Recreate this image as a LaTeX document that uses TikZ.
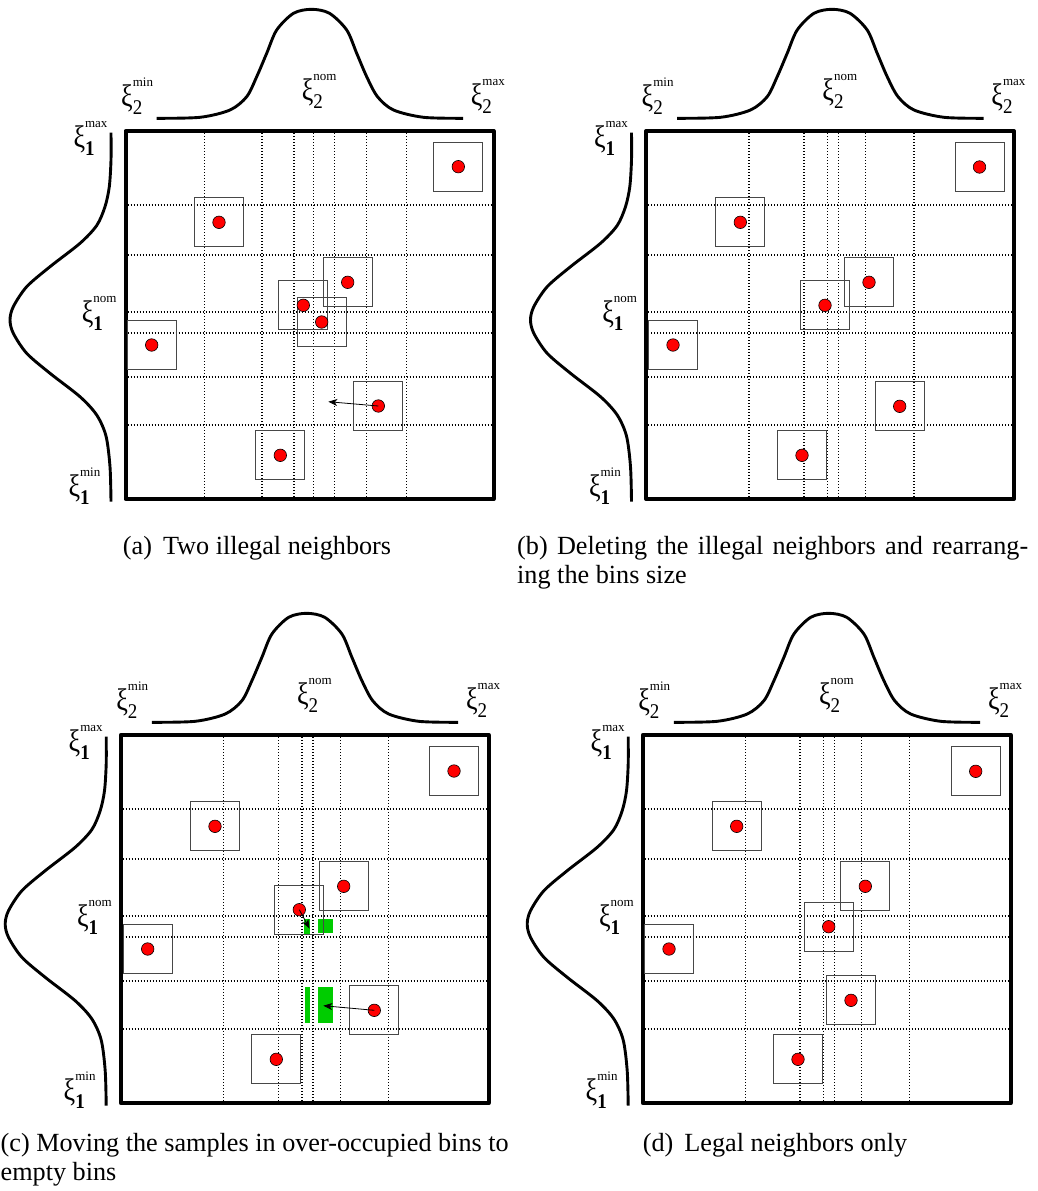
\documentclass[tikz,border=0pt]{standalone}
\usepackage{fontspec}
\setmainfont{Liberation Serif}
\usetikzlibrary{arrows.meta}
\definecolor{dotred}{RGB}{255,0,0}
\definecolor{bingreen}{RGB}{0,204,0}
\tikzset{
  outerframe/.style={line width=4pt, line join=round},
  bell/.style={line width=2.9pt},
  vgrid/.style={line width=1.4pt, dash pattern=on 1.4pt off 1.6pt},
  hgrid/.style={line width=1.8pt, dash pattern=on 1.4pt off 1.6pt},
  samp/.style={circle, draw=black, line width=0.6pt, fill=dotred, minimum size=12.5pt, inner sep=0pt},
  nbox/.style={draw=black!72, line width=1pt, minimum size=49pt, inner sep=0pt},
  mv/.style={-{Stealth[length=9pt,width=7pt,inset=2.5pt]}, line width=0.8pt},
  xlab/.style={anchor=base west, inner sep=0pt},
  captext/.style={anchor=base west, inner sep=0pt, font=\fontsize{26.2}{29}\selectfont},
  binfill/.style={fill=bingreen, draw=none}
}
\newcommand\xilab[2]{\scalebox{1}[1.2]{\fontsize{26}{26}\selectfont ξ}\rlap{\raisebox{19.5pt}{\fontsize{13}{13}\selectfont #2}}\raisebox{-8pt}{\scalebox{1}[1.1]{\fontsize{19}{19}\selectfont #1}}}
\newcommand\panelbase[2]{%
  \foreach \gx in {#2} \draw[vgrid] (\gx,2) -- (\gx,366);
  \foreach \gy in {73.7,124.3,180.7,202.3,245.7,294.3} \draw[hgrid] (2,\gy) -- (366,\gy);
  \draw[outerframe] (0,0) rectangle (368,368);
  \draw[bell] plot[smooth, tension=0.5] coordinates {(31.2,-12.7) (74.5,-13.7) (104.5,-21) (121.2,-34.3) (131.2,-54.3) (141.2,-77.7) (151.2,-101) (168,-117.7) (186,-121.7) (204,-117.7) (221.2,-101) (231.2,-77.7) (241.2,-54.3) (252,-34.3) (268,-21) (298,-13.7) (337.5,-12.7)};
  \draw[bell] plot[smooth, tension=0.5] coordinates {(-14.5,1.7) (-14.5,29) (-16.2,55.7) (-20.5,75.7) (-28.8,94.5) (-45.5,112.3) (-75.5,135.7) (-98.8,155.7) (-112.2,175.7) (-115.5,189) (-112.2,202.3) (-98.8,222.3) (-75.5,242.3) (-45.5,265.7) (-28.8,284) (-19.5,305) (-15.5,335.7) (-14.5,370.7)};
  \node[xlab] (#1-x2min) at (-4.5,-25) {\xilab{2}{min}};
  \node[xlab] (#1-x2nom) at (176.2,-30.7) {\xilab{2}{nom}};
  \node[xlab] (#1-x2max) at (345.2,-25.7) {\xilab{2}{max}};
  \node[xlab] (#1-x1max) at (-52.2,16) {\xilab{\textbf{1}}{max}};
  \node[xlab] (#1-x1nom) at (-43.8,191) {\xilab{\textbf{1}}{nom}};
  \node[xlab] (#1-x1min) at (-57.2,365.3) {\xilab{\textbf{1}}{min}};
}
\begin{document}
\begin{tikzpicture}[x=1pt,y=-1pt]
\useasboundingbox (0,0) rectangle (1037,1191);
% ---------- panel (a)
\begin{scope}[shift={(125.5,131)}]
  \panelbase{a}{78.8,136.5,168.5,187.8,208.8,241.2,281.2}
  \foreach \n/\px/\py in {1/332.8/35.7, 2/93.5/91.3, 3/222.2/151.3, 4/177.8/174.3, 5/196.2/191, 6/26.2/214, 7/252.8/275, 8/154.8/324.3}
    \node[nbox] (a-b\n) at (\px,\py) {};
  \foreach \n/\px/\py in {1/332.8/35.7, 2/93.5/91.3, 3/222.2/151.3, 4/177.8/174.3, 5/196.2/191, 6/26.2/214, 7/252.8/275, 8/154.8/324.3}
    \node[samp] (a-s\n) at (\px,\py) {};
  \coordinate (a-t7) at (202.8,270.7);
  \draw[mv] (a-s7.center) -- (a-t7);
\end{scope}
% ---------- panel (b)
\begin{scope}[shift={(646,131)}]
  \panelbase{b}{103,158,181.3,192.3,219.7,268}
  \foreach \n/\px/\py in {1/333.5/36, 2/94.3/91.3, 3/223/151.3, 4/179/174.3, 6/27/214, 7/253.7/275.3, 8/156/324.3}
    \node[nbox] (b-b\n) at (\px,\py) {};
  \foreach \n/\px/\py in {1/333.5/36, 2/94.3/91.3, 3/223/151.3, 4/179/174.3, 6/27/214, 7/253.7/275.3, 8/156/324.3}
    \node[samp] (b-s\n) at (\px,\py) {};
\end{scope}
% ---------- panel (c)
\begin{scope}[shift={(120.7,735)}]
  \panelbase{c}{103,158,181.3,192.3,219.7,268}
  \fill[binfill] (183.3,184) rectangle (188.8,198.5);
  \fill[binfill] (197.3,184) rectangle (212.6,197.7);
  \fill[binfill] (184.3,252) rectangle (189.3,288.3);
  \fill[binfill] (197.3,252) rectangle (212.6,288.3);
  \foreach \n/\px/\py in {1/333.3/36, 2/94.3/91.3, 3/223/151.3, 4/178.6/174.7, 6/27/214, 7/253.6/275.3, 8/155.6/324.3}
    \node[nbox] (c-b\n) at (\px,\py) {};
  \foreach \n/\px/\py in {1/333.3/36, 2/94.3/91.3, 3/223/151.3, 4/178.6/174.7, 6/27/214, 7/253.6/275.3, 8/155.6/324.3}
    \node[samp] (c-s\n) at (\px,\py) {};
  \coordinate (c-t4) at (188.8,193.5);
  \coordinate (c-t7) at (202.6,270.7);
  \draw[mv] (c-s4.center) -- (c-t4);
  \draw[mv] (c-s7.center) -- (c-t7);
\end{scope}
% ---------- panel (d)
\begin{scope}[shift={(642.7,735)}]
  \panelbase{d}{102.6,157.3,181,192,219,267}
  \foreach \n/\px/\py in {1/333/36.3, 2/94/91.3, 3/222.6/151.3, 4/186/191.7, 6/26.3/214, 7/208.3/265.3, 8/155.3/324.3}
    \node[nbox] (d-b\n) at (\px,\py) {};
  \foreach \n/\px/\py in {1/333/36.3, 2/94/91.3, 3/222.6/151.3, 4/186/191.7, 6/26.3/214, 7/208.3/265.3, 8/155.3/324.3}
    \node[samp] (d-s\n) at (\px,\py) {};
\end{scope}
% ---------- captions
\node[captext] (capa) at (122.7,554) {(a)\hspace{4.5pt} Two illegal neighbors};
\node[captext] (capb1) at (517,554) {\makebox[511pt][s]{(b) Deleting the illegal neighbors and rearrang-}};
\node[captext] (capb2) at (517,583) {ing the bins size};
\node[captext] (capc1) at (0.5,1151) {\makebox[508pt][s]{(c) Moving the samples in over-occupied bins to}};
\node[captext] (capc2) at (0.5,1180) {empty bins};
\node[captext] (capd) at (642.7,1151) {(d)\hspace{4.5pt} Legal neighbors only};
\end{tikzpicture}
\end{document}
